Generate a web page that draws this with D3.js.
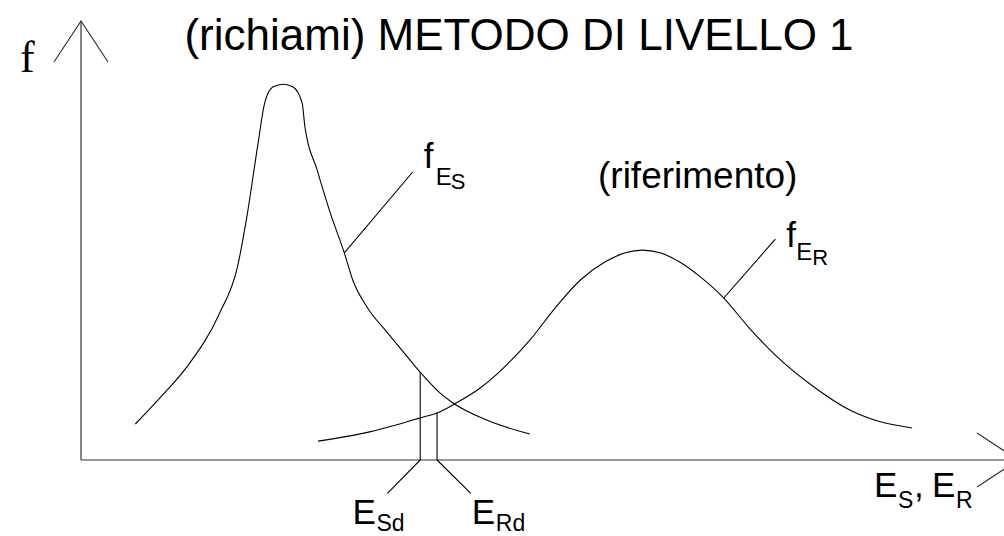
<!DOCTYPE html>
<html lang="it">
<head>
  <meta charset="UTF-8">
  <title>Metodo di livello 1</title>
  <script src="https://d3js.org/d3.v7.min.js"></script>
  <style>
    body { margin: 0; background: #fff; }
    text { font-family: "Liberation Sans", Arial, sans-serif; fill: #000; }
    .serif { font-family: "Liberation Serif", "Times New Roman", serif; }
  </style>
</head>
<body>
  <svg id="svg" width="1004" height="536"></svg>
  <script>
    // curve f_ES (sollecitazione) - x in E units, y in f units
    var sX = [5.8, 8.4, 11.3, 14.8, 16.7, 17.7, 18.9, 19.6, 20.5, 21.6, 22.6, 23.6, 23.9, 25.2, 26.6, 28.1, 29.0, 30.5, 32.7, 35.1, 36.2, 38.3, 39.7, 43.3, 47.9]
    var sY = [8.2, 14.1, 21.2, 33.5, 44.0, 55.4, 72.2, 81.3, 85.0, 85.6, 85.0, 81.3, 75.9, 66.1, 56.3, 47.2, 41.0, 34.9, 29.0, 22.8, 20.0, 15.3, 13.0, 9.1, 5.9]
    // curve f_ER (riferimento)
    var rX = [25.3, 30.8, 36.2, 38.2, 39.9, 42.6, 45.3, 47.9, 50.7, 53.3, 55.9, 58.1, 59.9, 61.8, 63.9, 66.1, 68.6, 71.3, 74.1, 77.8, 82.2, 85.3, 88.7]
    var rY = [4.3, 6.4, 9.6, 10.9, 12.8, 16.4, 21.4, 27.3, 34.9, 41.0, 45.1, 47.2, 47.8, 47.2, 45.1, 41.7, 36.9, 30.1, 23.9, 17.3, 11.2, 8.7, 7.3]
    // valori di progetto E_Sd, E_Rd and their heights
    var designX = [36.2, 38.0]
    var designY = [20.0, 10.9]
    var designEnd = [32.7, 41.6]   // where the leader lines end
    // leader lines for curve labels [x1, y1, x2, y2]
    var leaderS = [28.1, 47.2, 35.4, 65.6]
    var leaderR = [68.6, 36.9, 74.1, 50.3]

    var svg = d3.select('#svg')

    var x = d3.scaleLinear().domain([0, 100]).range([81, 1018])
    var y = d3.scaleLinear().domain([0, 100]).range([460, 21])

    var line = d3.line()
      .x(d => x(d[0]))
      .y(d => y(d[1]))
      .curve(d3.curveMonotoneX)

    var ink = '#000'

    // assi
    var axes = svg.append('g').attr('stroke', '#333').attr('stroke-width', 1.2).attr('fill', 'none')
    axes.append('line').attr('x1', x(0)).attr('y1', y(0)).attr('x2', x(0)).attr('y2', y(100))
    axes.append('line').attr('x1', x(0)).attr('y1', y(0)).attr('x2', x(100)).attr('y2', y(0))
    // frecce
    axes.append('polyline')
      .attr('points', [[x(0) - 27, y(100) + 41], [x(0), y(100)], [x(0) + 27, y(100) + 41]].join(' '))
    axes.append('polyline')
      .attr('points', [[x(100) - 41, y(0) - 27], [x(100), y(0)], [x(100) - 41, y(0) + 27]].join(' '))

    // curve
    var curves = svg.append('g').attr('stroke', ink).attr('stroke-width', 1.1).attr('fill', 'none')
    curves.append('path').attr('d', line(d3.zip(sX, sY)))
    curves.append('path').attr('d', line(d3.zip(rX, rY)))

    // linee verticali E_Sd, E_Rd e rimandi
    designX.forEach((v, i) => {
      curves.append('line')
        .attr('x1', x(v)).attr('y1', y(designY[i]))
        .attr('x2', x(v)).attr('y2', y(0))
      curves.append('line')
        .attr('x1', x(v)).attr('y1', y(0))
        .attr('x2', x(designEnd[i])).attr('y2', y(-7.6))
    })
    ;[leaderS, leaderR].forEach(l => {
      curves.append('line')
        .attr('x1', x(l[0])).attr('y1', y(l[1]))
        .attr('x2', x(l[2])).attr('y2', y(l[3]))
    })

    // testi
    function txt(t, px, py, size, cls) {
      return svg.append('text')
        .attr('x', px).attr('y', py)
        .attr('font-size', size)
        .attr('class', cls || null)
        .text(t)
    }

    txt('(richiami) METODO DI LIVELLO 1', 519, 50, 44).attr('text-anchor', 'middle')
    txt('(riferimento)', 598, 188, 37)
    txt('f', 20, 72, 44, 'serif')

    // f_ES
    var lx = x(leaderS[2]), ly = y(leaderS[3])
    txt('f', lx + 11, ly - 4, 35)
    txt('E', lx + 23, ly + 13, 24)
    txt('S', lx + 38, ly + 17, 22)

    // f_ER
    lx = x(leaderR[2]); ly = y(leaderR[3])
    txt('f', lx + 11, ly + 8, 35)
    txt('E', lx + 21, ly + 21, 24)
    txt('R', lx + 37, ly + 26, 22)

    // E_Sd, E_Rd
    txt('E', x(designEnd[0]) - 35, 524, 35)
    txt('Sd', x(designEnd[0]) - 11, 531, 23)
    txt('E', x(designEnd[1]) + 1, 524, 35)
    txt('Rd', x(designEnd[1]) + 25, 531, 23)

    // E_S, E_R
    txt('E', 874, 497, 35)
    txt('S', 898, 508, 23)
    txt(',', 914, 497, 35)
    txt('E', 932, 497, 35)
    txt('R', 956, 508, 23)
  </script>
</body>
</html>
